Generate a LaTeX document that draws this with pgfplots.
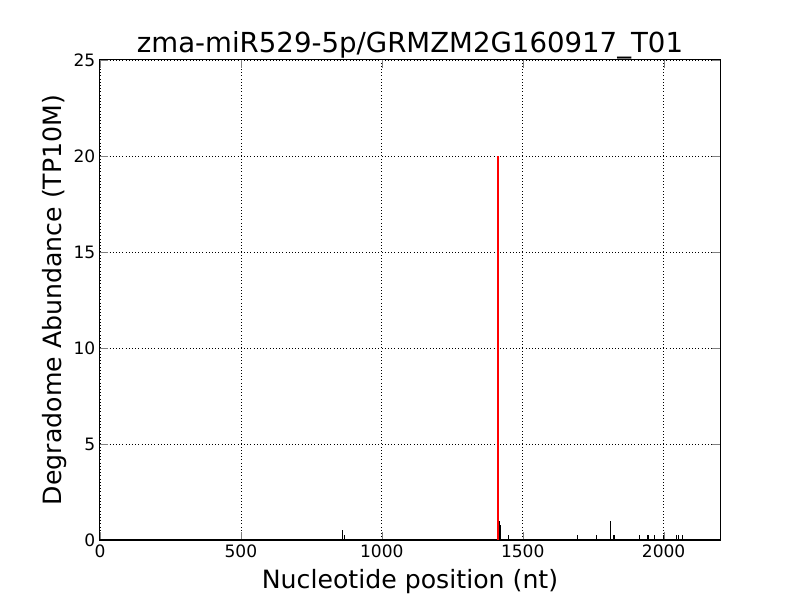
\documentclass[border=0pt]{standalone}
\usepackage{fontspec}
\setmainfont{DejaVu Sans}
\usepackage{pgfplots}
\pgfplotsset{compat=1.18}
\begin{document}
\begin{tikzpicture}
\path[use as bounding box] (-75pt,-45pt) rectangle (525pt,405pt);
\begin{axis}[
  at={(0,0)}, anchor=south west,
  scale only axis, width=465pt, height=360pt,
  xmin=0, xmax=2200, ymin=0, ymax=25,
  xtick={0,500,1000,1500,2000}, ytick={0,5,10,15,20,25},
  tick align=inside, xtick pos=both, ytick pos=both,
  major tick length=6pt,
  grid=major, grid style={black, dotted, line width=0.6pt},
  /pgf/number format/assume math mode=true,
  /pgf/number format/set thousands separator={},
  tick label style={font=\fontsize{12.8pt}{14pt}\selectfont},
  title={zma-miR529-5p/GRMZM2G160917\_T01},
  title style={font=\fontsize{20.7pt}{24pt}\selectfont, yshift=-9pt},
  xlabel={Nucleotide position (nt)},
  ylabel={Degradome Abundance (TP10M)},
  label style={font=\fontsize{18.9pt}{22pt}\selectfont},
  xlabel style={yshift=-2pt},
  ylabel style={yshift=-2pt},
  axis line style={black, line width=0.75pt},
]
\addplot[ycomb, black, line width=0.75pt, mark=none] coordinates {
 (859,0.5) (868,0.25) (1418,1.0) (1421,0.78) (1450,0.26)
 (1694,0.26) (1760,0.26) (1813,1.0) (1822,0.26) (1827,0.26)
 (1915,0.26) (1941,0.26) (1946,0.26) (1968,0.26) (2000,0.26)
 (2046,0.26) (2053,0.26) (2066,0.26)
};
\addplot[ycomb, red, line width=1.5pt, mark=none] coordinates {(1413,20)};
\end{axis}
\end{tikzpicture}
\end{document}
